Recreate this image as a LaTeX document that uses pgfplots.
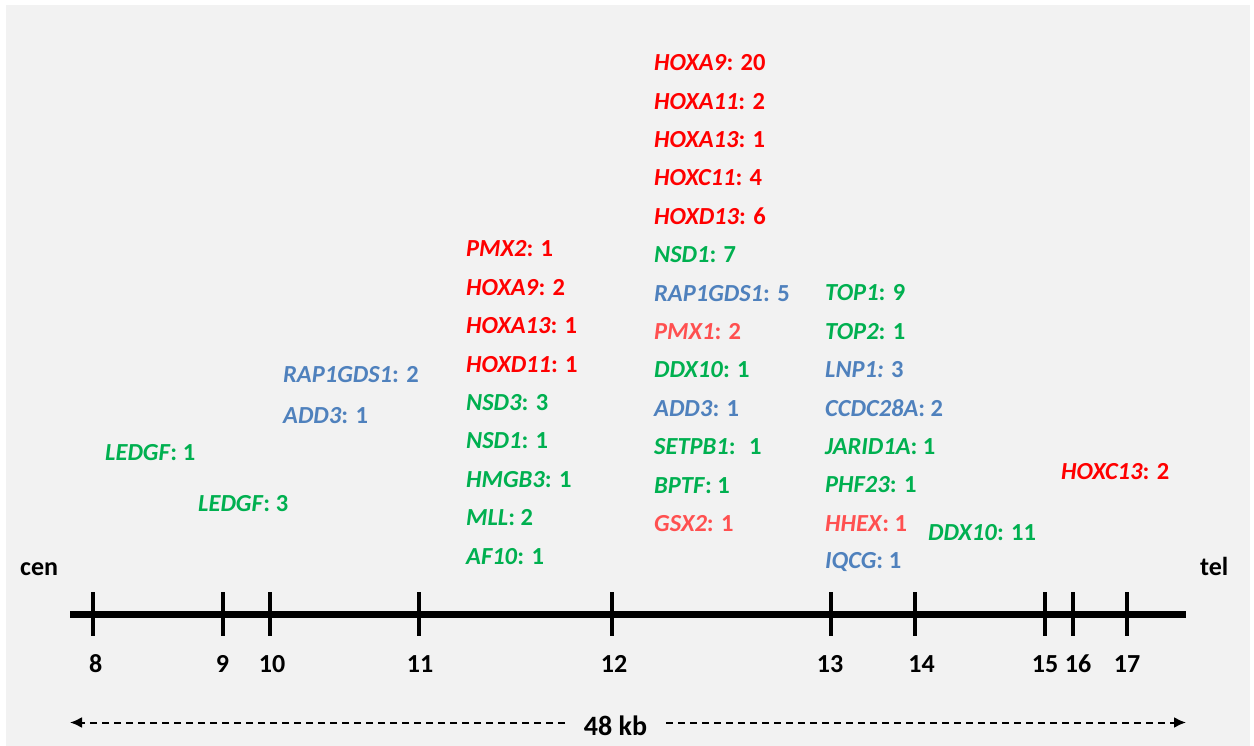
\documentclass[border=0pt]{standalone}
\usepackage{pgfplots}
\pgfplotsset{compat=1.18}
\usepackage{fontspec}
\setmainfont{Carlito}
\usetikzlibrary{arrows.meta}

\definecolor{panel}{HTML}{F2F2F2}
\definecolor{gred}{HTML}{FF0000}
\definecolor{ggreen}{HTML}{00B050}
\definecolor{gblue}{HTML}{4F81BD}
\definecolor{gpink}{HTML}{FF5050}

\tikzset{
  lab/.style={anchor=west, inner sep=0pt, font=\fontsize{24.5}{29}\selectfont\bfseries},
  num/.style={anchor=center, inner sep=0pt, font=\fontsize{26}{30}\selectfont\bfseries},
}

% gene label: colour, x, y (centre, pixels from top), name, count
\newcommand\gene[5]{\node[lab,text=#1] at (axis cs:#2,#3) {\textit{#4}: #5};}

\begin{document}
\begin{tikzpicture}
\begin{axis}[
  scale only axis,
  width=1254pt, height=746pt,
  xmin=0, xmax=1254, ymin=0, ymax=746,
  y dir=reverse,
  hide axis,
  clip=false,
]
\fill[white] (axis cs:0,0) rectangle (axis cs:1254,746);
\fill[panel] (axis cs:6,5) rectangle (axis cs:1250,746);

% chromosome line
\addplot[black, line width=7pt] coordinates {(70,614) (1186,614)};
% exon boundaries
\addplot[only marks, mark=|, mark size=22, mark options={line width=3.5pt, black}]
  coordinates {(93,614) (223,614) (270,614) (419,614) (612,614)
               (831,614) (915,614) (1045,614) (1073,614) (1127,614)};

% tick labels
\node[num] at (axis cs:95.7,664) {8};
\node[num] at (axis cs:222.5,664) {9};
\node[num] at (axis cs:272,664) {10};
\node[num] at (axis cs:420,664) {11};
\node[num] at (axis cs:614,664) {12};
\node[num] at (axis cs:830,664) {13};
\node[num] at (axis cs:921.5,664) {14};
\node[num] at (axis cs:1045,664) {15};
\node[num] at (axis cs:1078,664) {16};
\node[num] at (axis cs:1127,664) {17};

\node[num, anchor=base west] at (axis cs:20,575) {cen};
\node[num, anchor=base west] at (axis cs:1200,575) {tel};

% 48 kb span
\addplot[black, line width=2pt, dash pattern=on 7pt off 5pt, -{Latex[length=12pt,width=11pt]}]
  coordinates {(565,722.5) (70,722.5)};
\addplot[black, line width=2pt, dash pattern=on 7pt off 5pt, -{Latex[length=12pt,width=11pt]}]
  coordinates {(666,722.5) (1186,722.5)};
\node[num, font=\fontsize{28}{32}\selectfont\bfseries] at (axis cs:615.5,726) {48 kb};

% exon 8-9
\gene{ggreen}{105}{453}{LEDGF}{1}
\gene{ggreen}{198}{504}{LEDGF}{3}
% exon 10
\gene{gblue}{283}{375}{RAP1GDS1}{2}
\gene{gblue}{283}{416}{ADD3}{1}
% exon 11
\gene{gred}{466}{249}{PMX2}{1}
\gene{gred}{466}{287.4}{HOXA9}{2}
\gene{gred}{466}{325.8}{HOXA13}{1}
\gene{gred}{466}{364.2}{HOXD11}{1}
\gene{ggreen}{466}{402.6}{NSD3}{3}
\gene{ggreen}{466}{441}{NSD1}{1}
\gene{ggreen}{466}{479.4}{HMGB3}{1}
\gene{ggreen}{466}{517.8}{MLL}{2}
\gene{ggreen}{466}{556.2}{AF10}{1}
% exon 12
\gene{gred}{654}{62.8}{HOXA9}{20}
\gene{gred}{654}{101.2}{HOXA11}{2}
\gene{gred}{654}{139.6}{HOXA13}{1}
\gene{gred}{654}{178}{HOXC11}{4}
\gene{gred}{654}{216.4}{HOXD13}{6}
\gene{ggreen}{654}{254.8}{NSD1}{7}
\gene{gblue}{654}{293.2}{RAP1GDS1}{5}
\gene{gpink}{654}{331.6}{PMX1}{2}
\gene{ggreen}{654}{370}{DDX10}{1}
\gene{gblue}{654}{408.4}{ADD3}{1}
\gene{ggreen}{654}{446.8}{SETPB1}{\hspace{0.25em}1}
\gene{ggreen}{654}{485.2}{BPTF}{1}
\gene{gpink}{654}{523.6}{GSX2}{1}
% exon 13
\gene{ggreen}{825}{292.8}{TOP1}{9}
\gene{ggreen}{825}{331.2}{TOP2}{1}
\node[lab,text=gblue] at (axis cs:825,369.6) {\textit{LNP1:} 3};
\gene{gblue}{825}{408}{CCDC28A}{2}
\gene{ggreen}{825}{446.4}{JARID1A}{1}
\gene{ggreen}{825}{484.8}{PHF23}{1}
\gene{gpink}{825}{523.2}{HHEX}{1}
\gene{gblue}{825}{561.6}{IQCG}{1}
% exon 14 and 16-17
\gene{ggreen}{928}{533}{DDX10}{11}
\gene{gred}{1061}{471.7}{HOXC13}{2}
\end{axis}
\end{tikzpicture}
\end{document}
